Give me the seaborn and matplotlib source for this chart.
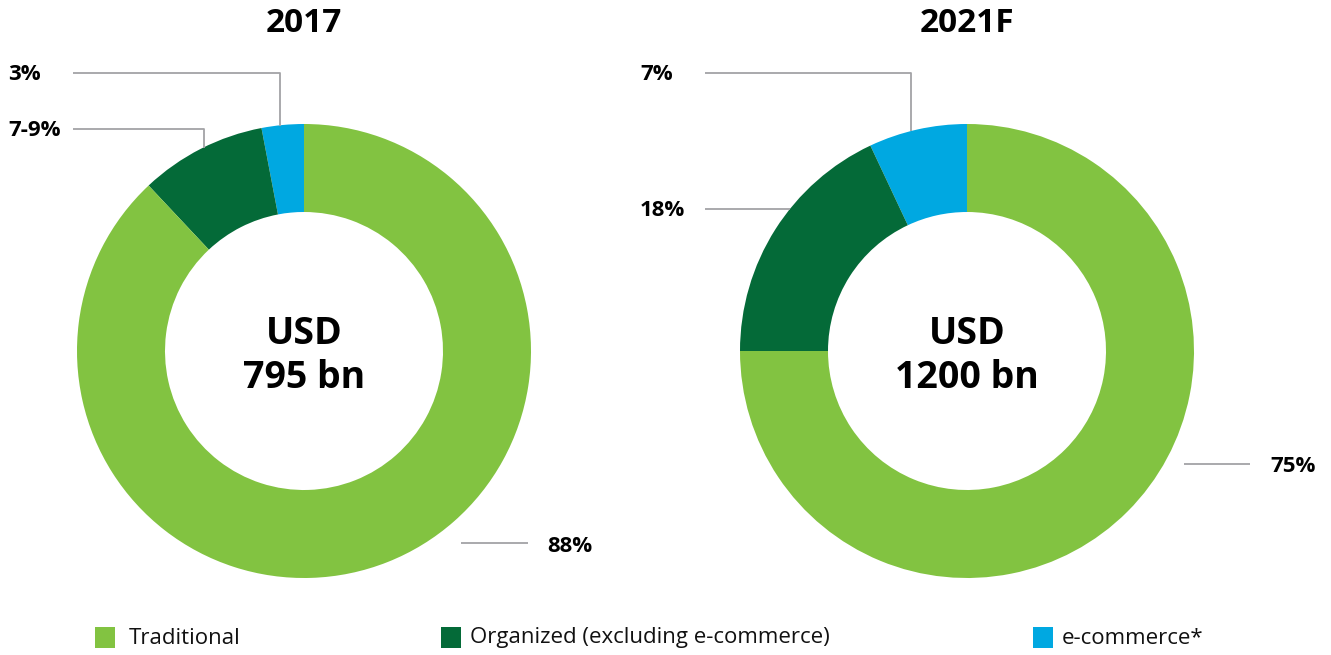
import matplotlib
matplotlib.use("Agg")
import matplotlib.pyplot as plt
from matplotlib.patches import Rectangle
import seaborn as sns

# data
categories = ["e-commerce*", "Organized (excluding e-commerce)", "Traditional"]
shares_2017 = [3, 9, 88]
shares_2021 = [7, 18, 75]
titles = ["2017", "2021F"]
totals = ["USD\n795 bn", "USD\n1200 bn"]
labels_2017 = ["3%", "7-9%", "88%"]
labels_2021 = ["7%", "18%", "75%"]

colours = ["#00A8E1", "#046A38", "#82C341"]

sns.set_style("white")
plt.rcParams["font.family"] = ["Open Sans", "DejaVu Sans"]
plt.rcParams["text.color"] = "black"

W, H = 1331, 655
fig = plt.figure(figsize=(W / 100, H / 100), dpi=100)
ax = fig.add_axes([0, 0, 1, 1])


def Y(py):
    # pixel row (from top) -> axes y
    return H - py


outer_r = 227
ring_w = 88
centres = [(304, 351), (967, 351)]

for (cx, cy), vals, title, total in zip(centres, [shares_2017, shares_2021], titles, totals):
    ax.pie(vals, colors=colours, startangle=90, counterclock=True,
           center=(cx, Y(cy)), radius=outer_r, frame=True,
           wedgeprops=dict(width=ring_w, linewidth=0))
    ax.text(cx, Y(23), title, ha="center", va="center", fontsize=24, fontweight="bold")
    ax.text(cx, Y(356), total, ha="center", va="center", fontsize=27,
            fontweight="bold", linespacing=1.2)

ax.set_xlim(0, W)
ax.set_ylim(0, H)
ax.set_aspect("equal")
ax.axis("off")

line_kw = dict(color="#a3a3a6", lw=1.3, solid_capstyle="butt")
lab_kw = dict(fontsize=16, fontweight="bold", va="center")

# 2017 leaders
ax.plot([73, 280, 280], [Y(73), Y(73), Y(126)], **line_kw)
ax.plot([73, 204, 204], [Y(129), Y(129), Y(148)], **line_kw)
ax.plot([461, 528], [Y(543), Y(543)], **line_kw)
ax.text(8, Y(74), labels_2017[0], ha="left", **lab_kw)
ax.text(8, Y(131), labels_2017[1], ha="left", **lab_kw)
ax.text(547, Y(546), labels_2017[2], ha="left", **lab_kw)

# 2021F leaders
ax.plot([705, 911, 911], [Y(73), Y(73), Y(131)], **line_kw)
ax.plot([705, 790], [Y(209), Y(209)], **line_kw)
ax.plot([1184, 1250], [Y(464), Y(464)], **line_kw)
ax.text(640, Y(74), labels_2021[0], ha="left", **lab_kw)
ax.text(640, Y(211), labels_2021[1], ha="left", **lab_kw)
ax.text(1270, Y(467), labels_2021[2], ha="left", **lab_kw)

# legend
legend_order = [2, 1, 0]
legend_x = [95, 441, 1033]
for i, lx in zip(legend_order, legend_x):
    ax.add_patch(Rectangle((lx, Y(648)), 20, 21, color=colours[i], lw=0))
    ax.text(lx + 34 if i == 2 else lx + 29, Y(638), categories[i], ha="left",
            va="center", fontsize=16, color="#111111")

fig.savefig("out.png", dpi=100)
